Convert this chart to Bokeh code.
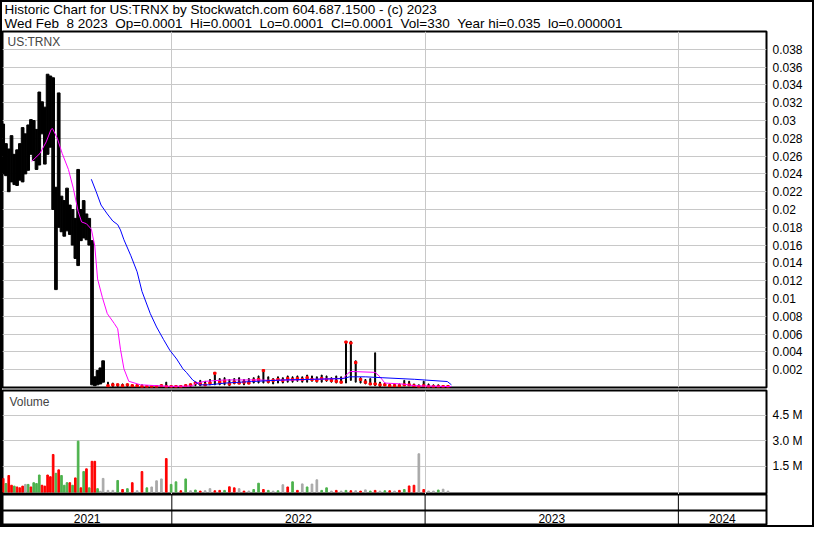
import pandas as pd
from bokeh.plotting import figure
from bokeh.models import Range1d, FixedTicker, Label, Span
from bokeh.layouts import column
from bokeh.embed import file_html
from bokeh.resources import INLINE
from bokeh.core.properties import value

# ---------------- data ----------------
# period A: 4-day buckets (high/low price, volume in millions)
a_dates = pd.date_range("2021-05-03", periods=37, freq="4D")
a_high = [0.0296, 0.0274, 0.0268, 0.0283, 0.0262, 0.0267, 0.0274, 0.0292, 0.0285, 0.0295,
          0.0301, 0.0300, 0.0290, 0.0332, 0.0321, 0.0315, 0.0352, 0.0350, 0.0348, 0.0225,
          0.0331, 0.0215, 0.0210, 0.0224, 0.0205, 0.0200, 0.0190, 0.0245, 0.0200, 0.0210,
          0.0195, 0.0190, 0.0165, 0.0012, 0.0019, 0.0022, 0.0030]
a_low = [0.0240, 0.0238, 0.0220, 0.0231, 0.0228, 0.0227, 0.0233, 0.0231, 0.0240, 0.0244,
         0.0262, 0.0255, 0.0245, 0.0250, 0.0285, 0.0251, 0.0262, 0.0270, 0.0200, 0.0110,
         0.0180, 0.0175, 0.0170, 0.0176, 0.0172, 0.0160, 0.0145, 0.0137, 0.0165, 0.0168,
         0.0166, 0.0160, 0.0003, 0.0002, 0.0003, 0.0004, 0.0006]
a_vol = [0.80, 0.50, 0.97, 0.40, 0.35, 0.30, 0.25, 0.35, 0.45, 0.45,
         0.30, 0.55, 0.50, 1.00, 0.40, 0.35, 1.00, 0.90, 2.20, 1.10,
         1.30, 0.97, 0.40, 0.55, 0.55, 0.40, 0.83, 2.98, 0.25, 1.20,
         1.36, 0.25, 1.80, 1.80, 0.20, 0.05, 0.80]
a_vol_dir = ["dn", "up", "dn", "dn", "up", "dn", "dn", "dn", "eq", "up",
             "dn", "up", "up", "up", "dn", "dn", "dn", "dn", "dn", "up",
             "dn", "up", "up", "up", "dn", "up", "dn", "up", "dn", "up",
             "dn", "up", "dn", "dn", "up", "eq", "eq"]

# period B: weekly buckets
b_dates = pd.date_range("2021-10-01", periods=71, freq="7D")
b_high = [0.0006, 0.0005, 0.0004, 0.0004, 0.0004, 0.0003, 0.0003, 0.0003, 0.0002, 0.0002,
          0.0002, 0.0003, 0.0006, 0.0002, 0.0002, 0.0002, 0.0003, 0.0004, 0.0006, 0.0008,
          0.0007, 0.0009, 0.0017, 0.0010, 0.0011, 0.0009, 0.0010, 0.0011, 0.0009, 0.0010,
          0.0011, 0.0013, 0.0020, 0.0012, 0.0010, 0.0012, 0.0011, 0.0013, 0.0012, 0.0013,
          0.0012, 0.0014, 0.0013, 0.0012, 0.0014, 0.0013, 0.0011, 0.0013, 0.0012, 0.0052,
          0.0052, 0.0030, 0.0011, 0.0009, 0.0010, 0.0039, 0.0006, 0.0005, 0.0004, 0.0004,
          0.0004, 0.0008, 0.0007, 0.0004, 0.0003, 0.0007, 0.0004, 0.0003, 0.0003, 0.0002,
          0.0002]
b_low = [0.0001, 0.0001, 0.0001, 0.0001, 0.0001, 0.0001, 0.0001, 0.0001, 0.0001, 0.0001,
         0.0001, 0.0001, 0.0001, 0.0001, 0.0001, 0.0001, 0.0001, 0.0001, 0.0002, 0.0002,
         0.0002, 0.0003, 0.0003, 0.0003, 0.0003, 0.0002, 0.0004, 0.0004, 0.0003, 0.0004,
         0.0005, 0.0005, 0.0005, 0.0005, 0.0004, 0.0005, 0.0005, 0.0006, 0.0006, 0.0007,
         0.0006, 0.0006, 0.0007, 0.0006, 0.0006, 0.0007, 0.0006, 0.0005, 0.0005, 0.0005,
         0.0008, 0.0006, 0.0005, 0.0004, 0.0003, 0.0002, 0.0001, 0.0002, 0.0001, 0.0001,
         0.0001, 0.0002, 0.0002, 0.0001, 0.0001, 0.0001, 0.0001, 0.0001, 0.0001, 0.0001,
         0.0001]
b_close = [0.0002, 0.0003, 0.0003, 0.0002, 0.0003, 0.0002, 0.0002, 0.0001, 0.0001, 0.0001,
           0.0001, 0.0002, 0.0001, 0.0001, 0.0001, 0.0001, 0.0002, 0.0003, 0.0005, 0.0004,
           0.0003, 0.0005, 0.0016, 0.0006, 0.0007, 0.0004, 0.0006, 0.0005, 0.0006, 0.0005,
           0.0008, 0.0009, 0.0019, 0.0007, 0.0008, 0.0009, 0.0008, 0.0010, 0.0009, 0.0010,
           0.0009, 0.0011, 0.0009, 0.0008, 0.0010, 0.0009, 0.0008, 0.0007, 0.0006, 0.0051,
           0.0050, 0.0028, 0.0009, 0.0006, 0.0004, 0.0004, 0.0003, 0.0003, 0.0002, 0.0002,
           0.0002, 0.0003, 0.0003, 0.0002, 0.0001, 0.0002, 0.0001, 0.0001, 0.0001, 0.0001,
           0.0001]
b_vol = [0.10, 0.10, 0.68, 0.15, 0.20, 0.55, 0.08, 1.20, 0.25, 0.30,
         0.66, 0.77, 1.96, 0.45, 0.60, 0.08, 0.77, 0.08, 0.12, 0.06,
         0.08, 0.20, 0.08, 0.10, 0.10, 0.31, 0.25, 0.20, 0.06, 0.06,
         0.15, 0.52, 0.15, 0.10, 0.06, 0.08, 0.43, 0.30, 0.60, 0.10,
         0.48, 0.30, 0.47, 0.72, 0.10, 0.25, 0.06, 0.10, 0.06, 0.10,
         0.08, 0.08, 0.06, 0.13, 0.06, 0.10, 0.06, 0.08, 0.08, 0.06,
         0.10, 0.15, 0.36, 0.40, 2.24, 0.15, 0.06, 0.06, 0.12, 0.17,
         0.06]
b_vol_dir = ["eq", "eq", "up", "dn", "up", "dn", "eq", "dn", "up", "eq",
             "eq", "eq", "dn", "up", "up", "dn", "up", "eq", "up", "dn",
             "eq", "eq", "dn", "dn", "up", "dn", "dn", "eq", "dn", "eq",
             "up", "up", "dn", "up", "eq", "up", "eq", "dn", "up", "dn",
             "eq", "up", "eq", "eq", "up", "up", "eq", "dn", "eq", "up",
             "dn", "eq", "dn", "eq", "up", "dn", "eq", "up", "dn", "eq",
             "dn", "up", "dn", "dn", "eq", "dn", "eq", "eq", "up", "eq",
             "eq"]

# moving averages
ma_short_dates = ["2021-06-13", "2021-06-25", "2021-07-04", "2021-07-11", "2021-07-13", "2021-07-20",
                  "2021-07-27", "2021-08-05", "2021-08-12", "2021-08-19", "2021-08-24", "2021-08-31",
                  "2021-09-07", "2021-09-12", "2021-09-16", "2021-09-23", "2021-09-30", "2021-10-10",
                  "2021-10-15", "2021-10-19", "2021-10-24", "2021-10-31", "2021-11-17", "2021-12-29",
                  "2022-01-22", "2022-01-31", "2022-02-05", "2022-02-19", "2022-03-19", "2022-05-05",
                  "2022-05-24", "2022-07-01", "2022-09-05", "2022-09-12", "2022-09-16", "2022-10-21",
                  "2022-10-28", "2022-11-04", "2022-11-28", "2022-12-17", "2023-01-24", "2023-02-08"]
ma_short = [0.0254, 0.0263, 0.0276, 0.0290, 0.0291, 0.0280, 0.0263, 0.0245, 0.0224, 0.0198,
            0.0186, 0.0184, 0.0178, 0.0159, 0.0122, 0.0101, 0.0083, 0.0072, 0.0066, 0.0043,
            0.0021, 0.0007, 0.0003, 0.00013, 0.00015, 0.0002, 0.0005, 0.0007, 0.00085, 0.00085,
            0.0008, 0.00085, 0.00103, 0.0016, 0.0018, 0.0017, 0.0012, 0.0005, 0.0004, 0.0002,
            0.00013, 0.0001]
ma_long_dates = ["2021-09-07", "2021-09-14", "2021-09-21", "2021-09-30", "2021-10-08", "2021-10-15",
                 "2021-10-19", "2021-10-24", "2021-11-03", "2021-11-12", "2021-11-19", "2021-12-01",
                 "2021-12-10", "2021-12-20", "2021-12-29", "2022-01-08", "2022-01-17", "2022-01-22",
                 "2022-01-31", "2022-02-10", "2022-02-24", "2022-03-19", "2022-04-26", "2022-06-12",
                 "2022-09-05", "2022-09-14", "2022-10-07", "2022-10-31", "2022-12-17", "2023-02-02",
                 "2023-02-08"]
ma_long = [0.0234, 0.0220, 0.0205, 0.0195, 0.0187, 0.0183, 0.0177, 0.0166, 0.0148, 0.0130,
           0.0108, 0.0083, 0.0068, 0.0054, 0.0042, 0.0032, 0.0021, 0.0017, 0.00085, 0.0003,
           0.0003, 0.0005, 0.00067, 0.00085, 0.0010, 0.0012, 0.0012, 0.0011, 0.00092, 0.00067,
           0.0003]

price_ticks = [0.002, 0.004, 0.006, 0.008, 0.010, 0.012, 0.014, 0.016, 0.018, 0.020,
               0.022, 0.024, 0.026, 0.028, 0.030, 0.032, 0.034, 0.036, 0.038]
price_labels = ["0.002", "0.004", "0.006", "0.008", "0.01", "0.012", "0.014", "0.016", "0.018", "0.02",
                "0.022", "0.024", "0.026", "0.028", "0.03", "0.032", "0.034", "0.036", "0.038"]
vol_ticks = [1.5, 3.0, 4.5]
vol_labels = ["1.5 M", "3.0 M", "4.5 M"]
years = [2021, 2022, 2023, 2024]

title_lines = ["Historic Chart for US:TRNX by Stockwatch.com 604.687.1500 - (c) 2023",
               "Wed Feb  8 2023  Op=0.0001  Hi=0.0001  Lo=0.0001  Cl=0.0001  Vol=330  Year hi=0.035  lo=0.000001"]

# ---------------- styling ----------------
FONT = "Liberation Sans"
RED, GREEN, GRAY = "#ff0000", "#4db24d", "#a9a9a9"
GRID = "#c8c8c8"
DAY = 86400000
dir_color = {"up": GREEN, "dn": RED, "eq": GRAY}

x_start = pd.Timestamp("2021-05-02")
x_end = pd.Timestamp("2024-05-07")
xr = Range1d(x_start, x_end)
year_bounds = [pd.Timestamp(f"{y}-01-01") for y in years[1:]]
year_ms = [t.value // 10**6 for t in year_bounds]
x0_ms = x_start.value // 10**6

FW = 764
RB = 46
P_TOP = 0.04


def base(fh, yr, top, bottom, yloc):
    p = figure(x_axis_type="datetime", x_range=xr, y_range=yr,
               frame_width=FW, frame_height=fh, output_backend="svg",
               toolbar_location=None, x_axis_location=None, y_axis_location=yloc,
               min_border_left=0, min_border_right=RB, min_border_top=top,
               min_border_bottom=bottom, background_fill_color="white",
               border_fill_color="white", outline_line_color="black",
               outline_line_width=2)
    return p


def style_axis(ax, ticks, labels):
    ax.ticker = FixedTicker(ticks=ticks)
    ax.major_label_overrides = {t: l for t, l in zip(ticks, labels)}
    ax.axis_line_color = None
    ax.major_tick_line_color = None
    ax.minor_tick_line_color = None
    ax.major_tick_out = 0
    ax.major_label_standoff = 6
    ax.major_label_text_font = FONT
    ax.major_label_text_font_size = "12px"
    ax.major_label_text_color = "black"


# ---------------- title strip ----------------
TH = 28
p0 = figure(x_range=Range1d(0, FW + RB), y_range=Range1d(0, TH), frame_width=FW + RB,
            frame_height=TH, output_backend="svg", toolbar_location=None,
            x_axis_location=None, y_axis_location=None, min_border=0,
            outline_line_color=None, background_fill_color="white", border_fill_color="white")
p0.grid.visible = False
p0.text(x=[2, 2], y=[TH - 7, TH - 21], text=[t.replace("  ", " \u00a0") for t in title_lines],
        text_baseline="middle", text_align="left", text_font=value(FONT),
        text_font_size="13.5px", text_color="black")

# ---------------- price panel ----------------
p1 = base(356, Range1d(0, P_TOP), 1, 2, "right")
style_axis(p1.yaxis[0], price_ticks, price_labels)
p1.ygrid.ticker = FixedTicker(ticks=price_ticks)
p1.xgrid.ticker = FixedTicker(ticks=year_ms)
p1.grid.grid_line_color = GRID
p1.grid.grid_line_width = 1

p1.vbar(x=a_dates, top=a_high, bottom=a_low, width=3.9 * DAY, color="black")
p1.vbar(x=b_dates, top=b_high, bottom=b_low, width=1.4 * DAY, color="black")
p1.rect(x=b_dates, y=b_close, width=3.5 * DAY, height=2, height_units="screen", color=RED)
p1.line(x=pd.to_datetime(ma_short_dates), y=ma_short, line_color="#ff00ff", line_width=1)
p1.line(x=pd.to_datetime(ma_long_dates), y=ma_long, line_color="#0000ff", line_width=1)
p1.add_layout(Label(x=x0_ms, y=P_TOP, text="US:TRNX", x_offset=5, y_offset=-3,
                    text_baseline="top", text_font=FONT, text_font_size="12px"))

# ---------------- volume panel ----------------
p2 = base(104, Range1d(-0.14, 5.94), 1, 0, "right")
style_axis(p2.yaxis[0], vol_ticks, vol_labels)
p2.ygrid.ticker = FixedTicker(ticks=vol_ticks)
p2.xgrid.ticker = FixedTicker(ticks=year_ms)
p2.grid.grid_line_color = GRID
p2.vbar(x=a_dates, top=a_vol, bottom=0, width=2.4 * DAY, color=[dir_color[d] for d in a_vol_dir])
p2.vbar(x=b_dates, top=b_vol, bottom=0, width=2.4 * DAY, color=[dir_color[d] for d in b_vol_dir])
p2.add_layout(Label(x=x0_ms, y=5.94, text="Volume", x_offset=7, y_offset=-4,
                    text_baseline="top", text_font=FONT, text_font_size="12px"))

# ---------------- year strip ----------------
p3 = base(31, Range1d(0, 31), 0, 0, None)
p3.grid.visible = False
for ms in year_ms:
    p3.add_layout(Span(location=ms, dimension="height", line_color="black", line_width=1))
p3.add_layout(Span(location=15, dimension="width", line_color="black", line_width=2))
edges = [x_start] + year_bounds + [x_end]
mids = [edges[i] + (edges[i + 1] - edges[i]) / 2 for i in range(len(years))]
p3.text(x=mids, y=[7.5] * len(years), text=[str(y) for y in years], text_align="center",
        text_baseline="middle", text_font=value(FONT), text_font_size="12px", text_color="black")

layout = column(p0, p1, p2, p3, spacing=0, styles={"border": "2px solid black"})
open("out.html", "w").write(file_html(layout, INLINE))
